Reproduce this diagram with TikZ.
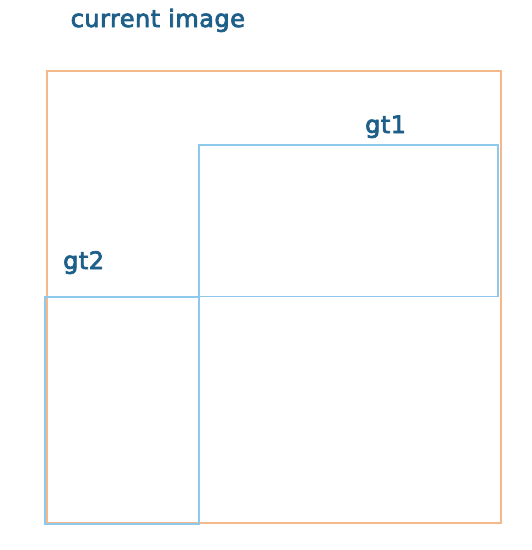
\documentclass[tikz,border=0pt]{standalone}
\usepackage{fontspec}
\setmainfont{DejaVu Sans}[FakeBold=3,LetterSpace=2]
\definecolor{lbl}{HTML}{1E5F8A}
\definecolor{orng}{HTML}{F5B88A}
\definecolor{lblue}{HTML}{8EC8EC}
\begin{document}
\begin{tikzpicture}[x=1pt,y=-1pt,
  lab/.style={text=lbl,font=\fontsize{24}{28}\selectfont,inner sep=0pt,anchor=base west},
  imgbox/.style={draw=orng,line width=1.2pt},
  gtbox/.style={draw=lblue,line width=1.2pt}]
\useasboundingbox (0,0) rectangle (532,550);
\draw[imgbox] (47,71) rectangle (501,523);
\draw[gtbox] (199,145) rectangle (498,296.5);
\draw[gtbox] (45,297) rectangle (199,524);
\node[lab] (cur) at (70.5,27) {current image};
\node[lab] (g1) at (365,133) {gt1};
\node[lab] (g2) at (63,269) {gt2};
\end{tikzpicture}
\end{document}
